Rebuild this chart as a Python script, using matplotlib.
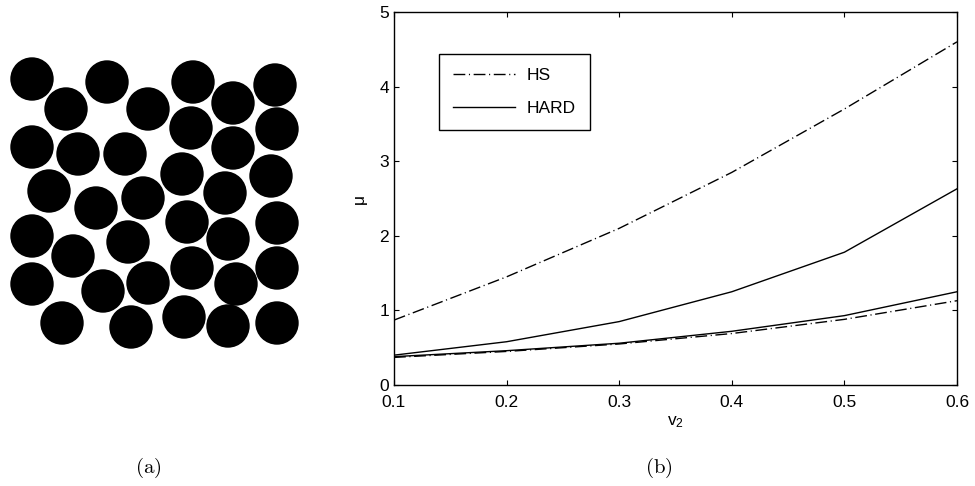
import numpy as np
import matplotlib.pyplot as plt
from matplotlib.patches import Circle

plt.rcParams['font.family'] = ['Liberation Sans', 'DejaVu Sans']

# packing of disks (panel a), centres in panel pixels
cx = [32, 107, 193, 275, 66, 148, 233, 191, 277, 32, 78, 125, 233, 182, 271,
      49, 143, 225, 96, 32, 187, 277, 128, 228, 73, 192, 277, 32, 148, 103,
      236, 62, 184, 131, 228, 277]
cy = [29, 32, 32, 35, 59, 59, 53, 78, 79, 97, 104, 104, 98, 124, 126,
      141, 148, 143, 158, 186, 172, 173, 192, 189, 206, 218, 218, 234, 233, 241,
      234, 273, 267, 277, 276, 273]
radius = 21.7

# panel b data
v2 = [0.1, 0.2, 0.3, 0.4, 0.5, 0.6]
hs_upper = [0.87, 1.45, 2.1, 2.85, 3.7, 4.6]
hs_lower = [0.37, 0.45, 0.55, 0.69, 0.88, 1.13]
hard_upper = [0.40, 0.58, 0.85, 1.25, 1.78, 2.63]
hard_lower = [0.38, 0.46, 0.56, 0.72, 0.93, 1.25]

W, H = 975, 486
fig = plt.figure(figsize=(W / 100, H / 100), dpi=100)


def px_axes(x0, y0, x1, y1):
    return fig.add_axes([x0 / W, 1 - y1 / H, (x1 - x0) / W, (y1 - y0) / H])


# (a)
ax0 = px_axes(0, 50, 310, 350)
for x, y in zip(cx, cy):
    ax0.add_patch(Circle((x, y), radius, facecolor='black', edgecolor='none'))
ax0.set_xlim(0, 310)
ax0.set_ylim(300, 0)
ax0.set_aspect('equal')
ax0.axis('off')

# (b)
dashdot = (8.5, 2.6, 0.8, 2.6)
ax = px_axes(394, 12, 957, 385)
ax.plot(v2, hs_upper, 'k', lw=1.0, dashes=dashdot, label='HS')
ax.plot(v2, hard_upper, 'k-', lw=1.0, label='HARD')
ax.plot(v2, hs_lower, 'k', lw=1.0, dashes=dashdot)
ax.plot(v2, hard_lower, 'k-', lw=1.0)
ax.set_xlim(0.1, 0.6)
ax.set_ylim(0, 5)
ax.set_xticks(v2)
ax.set_xticklabels(['0.1', '0.2', '0.3', '0.4', '0.5', '0.6'])
ax.set_yticks(range(6))
ax.tick_params(direction='in', top=True, right=True, length=3.5, width=0.8,
               labelsize=12.5)
ax.tick_params(axis='x', pad=7.5)
ax.tick_params(axis='y', pad=3.5)
for s in ax.spines.values():
    s.set_linewidth(1.0)
ax.set_xlabel(r'$\mathregular{v_2}$', fontsize=12.5, labelpad=3)
ax.set_ylabel('μ', fontsize=12.5, labelpad=9)

leg = ax.legend(loc='upper left', bbox_to_anchor=(0.08, 0.887), fontsize=12.5,
                frameon=True, fancybox=False, framealpha=1, edgecolor='black',
                handlelength=3.6, handletextpad=0.65, labelspacing=1.0,
                borderpad=0.8, borderaxespad=0)
leg.get_frame().set_linewidth(1.0)

fig.text(148 / W, 1 - 468 / H, r'$\mathrm{(a)}$', math_fontfamily='cm',
         fontsize=15, ha='center', va='center')
fig.text(659 / W, 1 - 468 / H, r'$\mathrm{(b)}$', math_fontfamily='cm',
         fontsize=15, ha='center', va='center')

plt.savefig('out.png', dpi=100)
plt.close()
